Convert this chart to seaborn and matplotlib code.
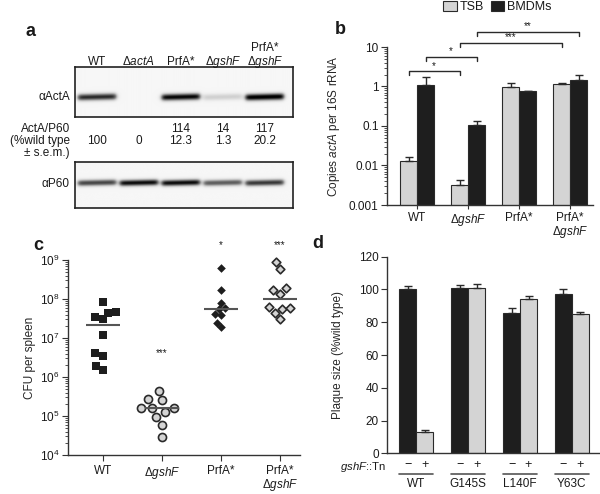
import numpy as np
import pandas as pd
import seaborn as sns
import matplotlib.pyplot as plt

sns.set_style("ticks")
plt.rcParams["font.family"] = ["Liberation Sans", "DejaVu Sans"]
plt.rcParams["mathtext.fontset"] = "custom"
plt.rcParams["mathtext.rm"] = "Liberation Sans"
plt.rcParams["mathtext.it"] = "Liberation Sans:italic"
plt.rcParams["mathtext.bf"] = "Liberation Sans:bold"
plt.rcParams["font.size"] = 8.5
plt.rcParams["text.color"] = "#1a1a1a"
plt.rcParams["axes.edgecolor"] = "#333333"
plt.rcParams["axes.linewidth"] = 1.0
plt.rcParams["xtick.color"] = "#333333"
plt.rcParams["ytick.color"] = "#333333"
plt.rcParams["xtick.labelcolor"] = "#1a1a1a"
plt.rcParams["ytick.labelcolor"] = "#1a1a1a"

GREY = "#d4d4d4"
BLACK = "#1e1e1e"
EDGE = "#2a2a2a"

# ---- panel a: western blot ----
lanes = ["WT", "Δ$\\mathit{actA}$", "PrfA*", "Δ$\\mathit{gshF}$", "PrfA*\nΔ$\\mathit{gshF}$"]
acta_band = [0.80, 0.0, 0.92, 0.22, 0.97]
p60_band = [0.72, 0.90, 0.90, 0.64, 0.76]
ratio = ["100", "0", "114", "14", "117"]
ratio_sem = ["", "", "12.3", "1.3", "20.2"]

# ---- panel b: actA transcripts ----
strains_b = ["WT", "ΔgshF", "PrfA*", "PrfA*ΔgshF"]
media = ["TSB", "BMDMs"]
tsb_mean = [0.013, 0.0032, 0.96, 1.16]
tsb_err = [0.0166, 0.0043, 1.23, 1.21]
bmdm_mean = [1.09, 0.106, 0.77, 1.46]
bmdm_err = [1.74, 0.135, 0.79, 1.96]
# (medium, strain index, medium, strain index, bracket height, label)
brackets_b = [
    ("TSB", 0, "TSB", 1, 2.45, "*"),
    ("BMDMs", 0, "BMDMs", 1, 5.6, "*"),
    ("TSB", 1, "TSB", 3, 12.6, "***"),
    ("BMDMs", 1, "BMDMs", 3, 24.0, "**"),
]

# ---- panel c: CFU per spleen (log10) ----
strains_c = ["WT", "ΔgshF", "PrfA*", "PrfA*ΔgshF"]
wt_cfu = [7.92, 7.55, 7.66, 7.49, 7.63, 7.08, 6.61, 6.55, 6.28, 6.18]
gshf_cfu = [5.65, 5.41, 5.43, 5.11, 5.21, 5.21, 5.20, 4.98, 4.77, 4.47]
prfa_cfu = [8.79, 8.23, 7.76, 7.89, 7.74, 7.59, 7.61, 7.39, 7.27]
prfa_gshf_cfu = [8.76, 8.94, 8.23, 8.13, 8.27, 7.74, 7.80, 7.78, 7.65, 7.50]
sig_c = {"ΔgshF": ("***", 4.2e6), "PrfA*": ("*", 2.4e9), "PrfA*ΔgshF": ("***", 2.4e9)}

# ---- panel d: plaque size ----
strains_d = ["WT", "G145S", "L140F", "Y63C"]
tn_levels = ["−", "+"]
plaque_minus = [100.0, 100.6, 85.8, 97.1]
plaque_minus_err = [102.0, 102.7, 88.7, 100.0]
plaque_plus = [13.3, 101.2, 94.0, 84.8]
plaque_plus_err = [14.2, 103.3, 96.1, 86.2]

tick_names = {
    "WT": "WT",
    "ΔgshF": "Δ$\\mathit{gshF}$",
    "PrfA*": "PrfA*",
    "PrfA*ΔgshF": "PrfA*\nΔ$\\mathit{gshF}$",
}

W, H = 600, 494
fig = plt.figure(figsize=(W / 100, H / 100), dpi=100)


def add_ax(left, top, right, bottom):
    return fig.add_axes([left / W, 1 - bottom / H, (right - left) / W, (bottom - top) / H])


def ftext(x, y, s, **kw):
    fig.text(x / W, 1 - y / H, s, **kw)


def blot_image(levels, row, xlim):
    xs = np.linspace(xlim[0], xlim[1], 440)
    ys = np.linspace(0, 1, 100)
    X, Y = np.meshgrid(xs, ys)
    img = np.full_like(X, 0.07)
    for i, lv in enumerate(levels):
        across = 1 / (1 + np.exp(-(X - (i - 0.46)) / 0.03)) / (1 + np.exp((X - (i + 0.46)) / 0.03))
        along = np.exp(-0.5 * ((Y - row + 0.02 * (X - i)) / 0.05) ** 2)
        img += lv * across * along
    return np.clip(img, 0, 1)


blot_xlim = (-0.52, 4.67)
ax_a1 = add_ax(75, 67, 293, 117)
ax_a2 = add_ax(75, 162, 293, 208)
for ax, levels, row in [(ax_a1, acta_band, 0.6), (ax_a2, p60_band, 0.45)]:
    ax.imshow(blot_image(levels, row, blot_xlim), extent=(*blot_xlim, 1, 0),
              aspect="auto", cmap="Greys", vmin=0, vmax=1)
    ax.set_xlim(*blot_xlim)
    ax.set_ylim(1, 0)
    ax.set_xticks([])
    ax.set_yticks([])
    for sp in ax.spines.values():
        sp.set_color("#222222")
        sp.set_linewidth(1.2)

trans_a = ax_a1.get_xaxis_transform()
for i, name in enumerate(lanes):
    ax_a1.text(i, 1.04, name, transform=trans_a, ha="center", va="baseline",
               linespacing=1.0)
    if ratio_sem[i]:
        ax_a1.text(i, -0.36, ratio[i] + "\n" + ratio_sem[i], transform=trans_a,
                   ha="center", va="center", linespacing=0.95)
    else:
        ax_a1.text(i, -0.48, ratio[i], transform=trans_a, ha="center", va="center")

ftext(70, 97, "αActA", ha="right", va="center")
ftext(70, 141, "ActA/P60\n(%wild type\n± s.e.m.)", ha="right", va="center",
      linespacing=0.95)
ftext(70, 184, "αP60", ha="right", va="center")

# ---- panel b ----
df_b = pd.DataFrame({
    "strain": strains_b * 2,
    "medium": ["TSB"] * 4 + ["BMDMs"] * 4,
    "copies": tsb_mean + bmdm_mean,
})
err_b = {"TSB": tsb_err, "BMDMs": bmdm_err}
ax_b = add_ax(387, 47, 593, 205)
sns.barplot(data=df_b, x="strain", y="copies", hue="medium", order=strains_b,
            hue_order=media, palette={"TSB": GREY, "BMDMs": BLACK}, width=0.667,
            errorbar=None, edgecolor=EDGE, linewidth=0.8, ax=ax_b)
ax_b.set_yscale("log")
ax_b.set_ylim(1e-3, 10)
ax_b.set_xlim(-0.59, 3.45)

centers_b = {}
for medium, cont in zip(media, ax_b.containers):
    xs = []
    for bar, top in zip(cont, err_b[medium]):
        x = bar.get_x() + bar.get_width() / 2
        h = bar.get_height()
        xs.append(x)
        ax_b.errorbar([x], [h], yerr=[[0], [top - h]], fmt="none", ecolor=EDGE,
                      elinewidth=1.0, capsize=3, capthick=1.0, zorder=1)
    centers_b[medium] = xs

for m1, i1, m2, i2, y, label in brackets_b:
    x1, x2 = centers_b[m1][i1], centers_b[m2][i2]
    ylo = y / 1.27
    ax_b.plot([x1, x1, x2, x2], [ylo, y, y, ylo], color=EDGE, lw=1.0, clip_on=False)
    ax_b.text((x1 + x2) / 2, y * 1.03, label, ha="center", va="bottom", fontsize=7,
              clip_on=False)

ax_b.set_xticks(range(4))
ax_b.set_xticklabels([tick_names[s] for s in strains_b], linespacing=1.0)
ax_b.tick_params(axis="x", length=3, pad=2)
ax_b.tick_params(axis="y", which="major", length=4, pad=2)
ax_b.tick_params(axis="y", which="minor", length=2)
ax_b.set_yticks([1e-3, 1e-2, 1e-1, 1, 10])
ax_b.set_yticklabels(["0.001", "0.01", "0.1", "1", "10"])
ax_b.set_xlabel("")
ax_b.set_ylabel("Copies $\\mathit{actA}$ per 16S rRNA")
ax_b.yaxis.set_label_coords(-0.22, 0.5)
sns.despine(ax=ax_b)
sns.move_legend(ax_b, "upper left", bbox_to_anchor=(443 / W, 1 - 1 / H),
                bbox_transform=fig.transFigure, ncol=2, frameon=False, title=None,
                handlelength=1.1, handleheight=0.85, handletextpad=0.25,
                columnspacing=0.5, borderpad=0, borderaxespad=0, fontsize=9)

# ---- panel c ----
df_c = pd.DataFrame({
    "strain": (["WT"] * len(wt_cfu) + ["ΔgshF"] * len(gshf_cfu)
               + ["PrfA*"] * len(prfa_cfu) + ["PrfA*ΔgshF"] * len(prfa_gshf_cfu)),
    "cfu": 10.0 ** np.array(wt_cfu + gshf_cfu + prfa_cfu + prfa_gshf_cfu),
})
ax_c = add_ax(68, 260, 300, 455)
ax_c.set_yscale("log")
styles_c = {
    "WT": dict(marker="s", color=BLACK, size=5.4, linewidth=0),
    "ΔgshF": dict(marker="o", color=GREY, size=5.8, edgecolor=EDGE, linewidth=1.2),
    "PrfA*": dict(marker="D", color=BLACK, size=4.4, linewidth=0),
    "PrfA*ΔgshF": dict(marker="D", color=GREY, size=4.4, edgecolor=EDGE, linewidth=1.2),
}
for s in strains_c:
    sns.swarmplot(data=df_c[df_c["strain"] == s], x="strain", y="cfu", order=strains_c,
                  ax=ax_c, clip_on=False, **styles_c[s])
for i, s in enumerate(strains_c):
    med = np.median(df_c.loc[df_c["strain"] == s, "cfu"])
    ax_c.hlines(med, i - 0.29, i + 0.29, color="#555555", lw=1.5, zorder=3)
    if s in sig_c:
        label, y = sig_c[s]
        ax_c.text(i, y, label, ha="center", va="center", fontsize=7, clip_on=False)
ax_c.set_ylim(1e4, 1e9)
ax_c.set_xlim(-0.59, 3.34)
ax_c.set_xticks(range(4))
ax_c.set_xticklabels([tick_names[s] for s in strains_c], linespacing=1.0)
ax_c.tick_params(axis="x", length=4, pad=3)
ax_c.tick_params(axis="y", which="major", length=4, pad=2)
ax_c.tick_params(axis="y", which="minor", length=2)
ax_c.set_xlabel("")
ax_c.set_ylabel("CFU per spleen")
ax_c.yaxis.set_label_coords(-0.138, 0.5)
sns.despine(ax=ax_c)

# ---- panel d ----
df_d = pd.DataFrame({
    "strain": strains_d * 2,
    "tn": [tn_levels[0]] * 4 + [tn_levels[1]] * 4,
    "plaque": plaque_minus + plaque_plus,
})
err_d = {tn_levels[0]: plaque_minus_err, tn_levels[1]: plaque_plus_err}
ax_d = add_ax(387, 256.7, 599, 453.3)
sns.barplot(data=df_d, x="strain", y="plaque", hue="tn", order=strains_d,
            hue_order=tn_levels, palette={tn_levels[0]: BLACK, tn_levels[1]: GREY},
            width=0.655, errorbar=None, edgecolor=EDGE, linewidth=0.8, legend=False,
            ax=ax_d)
ax_d.set_ylim(0, 120)
ax_d.set_xlim(-0.56, 3.52)
trans_d = ax_d.get_xaxis_transform()
edges_d = []
for lvl, cont in zip(tn_levels, ax_d.containers):
    edges = []
    for bar, top in zip(cont, err_d[lvl]):
        x = bar.get_x() + bar.get_width() / 2
        h = bar.get_height()
        ax_d.errorbar([x], [h], yerr=[[0], [top - h]], fmt="none", ecolor=EDGE,
                      elinewidth=1.0, capsize=3, capthick=1.0, zorder=1)
        ax_d.text(x, -0.062, lvl, transform=trans_d, ha="center", va="center", fontsize=9)
        edges.append((bar.get_x(), bar.get_x() + bar.get_width()))
    edges_d.append(edges)
for i, name in enumerate(strains_d):
    left, right = edges_d[0][i][0], edges_d[1][i][1]
    ax_d.plot([left, right], [-0.103, -0.103], transform=trans_d, color="#555555",
              lw=1.2, clip_on=False)
    ax_d.text((left + right) / 2, -0.157, name, transform=trans_d, ha="center",
              va="center")
ax_d.text(-0.005, -0.068, "$\\mathit{gshF}$::Tn", transform=ax_d.transAxes, ha="right",
          va="center", fontsize=8.2)
ax_d.set_xticks([])
ax_d.set_yticks(range(0, 121, 20))
ax_d.tick_params(axis="y", length=4, pad=2)
ax_d.set_xlabel("")
ax_d.set_ylabel("Plaque size (%wild type)")
ax_d.yaxis.set_label_coords(-0.203, 0.5)
sns.despine(ax=ax_d)

# panel letters
for x, y, s in [(31, 32, "a"), (340, 29, "b"), (38, 245, "c"), (318, 243, "d")]:
    ftext(x, y, s, ha="center", va="center", fontsize=13, fontweight="bold")

fig.savefig("out.png", dpi=100)
